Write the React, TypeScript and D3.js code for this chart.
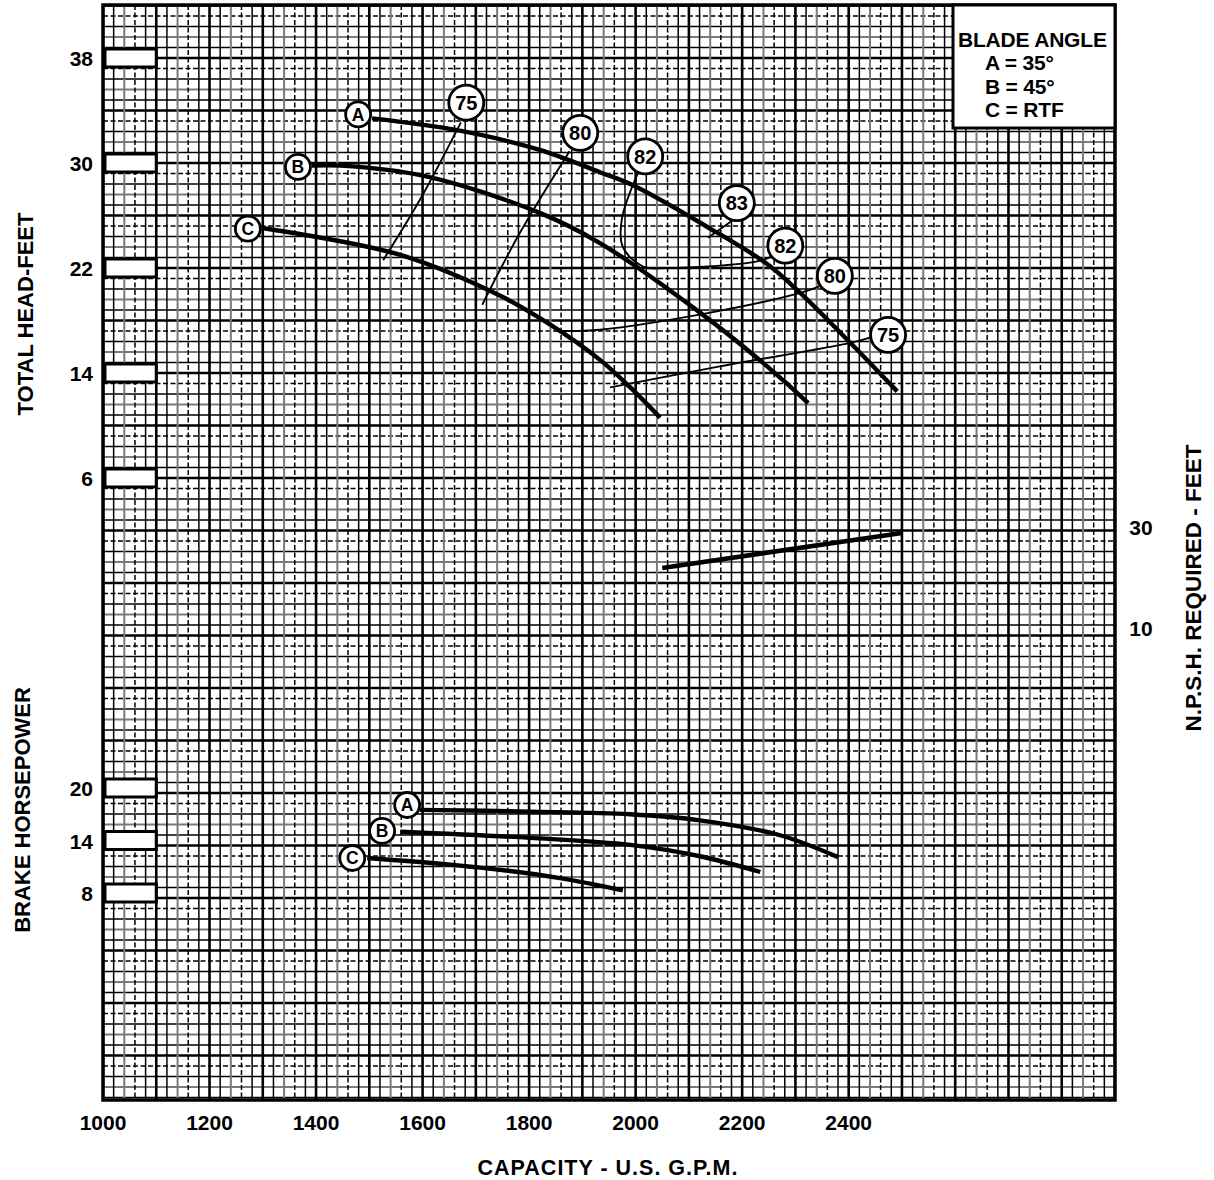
import React from 'react';
import * as d3 from 'd3';

const W = 1214, H = 1180;
const X0 = 103, X1 = 1115, Y0 = 5, Y1 = 1100;

const gpmTicks = [1000, 1200, 1400, 1600, 1800, 2000, 2200, 2400];
const headTicks = [38, 30, 22, 14, 6];
const bhpTicks = [20, 14, 8];
const npshTicks = [30, 10];

// Head curves [gpm, feet]
const headA = [[1505, 33.4], [1665, 32.5], [1820, 31.0], [1933, 29.3], [1995, 28.3], [2140, 25.0], [2247, 22.3], [2309, 20.1], [2403, 16.3], [2491, 12.6]];
const headB = [[1392, 29.8], [1445, 29.8], [1605, 29.0], [1820, 26.2], [1933, 23.9], [2121, 18.6], [2247, 14.5], [2324, 11.7]];
const headC = [[1299, 25.05], [1558, 23.0], [1745, 19.9], [1839, 17.7], [1933, 15.0], [1990, 12.9], [2046, 10.6]];

// Efficiency iso lines [gpm, feet]
const eff75L = [[1526, 22.6], [1595, 27.2], [1672, 33.1]];
const eff80L = [[1712, 19.2], [1783, 24.7], [1876, 30.9]];
const eff82 = [[2005, 29.3], [1974, 25.7], [1976, 23.6], [2014, 22.1], [2059, 22.0], [2228, 22.5], [2262, 23.0]];
const eff83 = [[2136, 24.3], [2181, 25.6]];
const eff80R = [[1864, 17.2], [1933, 17.3], [2140, 18.6], [2309, 20.1], [2345, 20.6]];
const eff75R = [[1952, 12.9], [2158, 14.5], [2403, 16.3], [2440, 16.7]];

// Circled labels [gpm, feet, text]
const effLabels: [number, number, string][] = [
  [1682, 34.6, '75'], [1896, 32.3, '80'], [2018, 30.5, '82'], [2190, 26.95, '83'],
  [2281, 23.7, '82'], [2374, 21.4, '80'], [2474, 16.9, '75'],
];
const headLabels: [number, number, string][] = [[1479, 33.7, 'A'], [1366, 29.7, 'B'], [1272, 25.0, 'C']];

// NPSH required [gpm, feet]
const npshLine = [[2050, 21.9], [2500, 28.8]];

// Brake horsepower [gpm, hp]
const bhpA = [[1595, 17.5], [1802, 17.3], [1990, 17.0], [2121, 16.3], [2271, 14.6], [2380, 12.1]];
const bhpB = [[1558, 15.0], [1802, 14.3], [1990, 13.5], [2121, 12.2], [2234, 10.4]];
const bhpC = [[1496, 12.0], [1708, 10.9], [1858, 9.7], [1976, 8.3]];
const bhpLabels: [number, number, string][] = [[1571, 18.06, 'A'], [1524, 15.1, 'B'], [1468, 12.0, 'C']];

const legendLines = ['BLADE ANGLE', 'A = 35°', 'B = 45°', 'C = RTF'];

const FONT = '"Liberation Sans", Arial, Helvetica, sans-serif';

export default function App() {
  const x = d3.scaleLinear().domain([1000, 2900]).range([X0, X1]);
  const head = d3.scaleLinear().domain([0, 38]).range([556.75, 58]);
  const bhp = d3.scaleLinear().domain([8, 20]).range([893, 788]);
  const npsh = d3.scaleLinear().domain([10, 30]).range([628, 527]);

  const lineH = d3.line<number[]>().x(d => x(d[0])).y(d => head(d[1])).curve(d3.curveCatmullRom.alpha(0.5));
  const lineP = d3.line<number[]>().x(d => x(d[0])).y(d => bhp(d[1])).curve(d3.curveCatmullRom.alpha(0.5));
  const lineN = d3.line<number[]>().x(d => x(d[0])).y(d => npsh(d[1]));

  // graph paper grid
  const styleFor = (i: number, vertical: boolean) => {
    const m = ((i % 5) + 5) % 5;
    if (m === 0) return { stroke: '#000', strokeWidth: 2.6, dash: undefined as string | undefined };
    const order = vertical ? [0, 1, 2, 3, 1] : [0, 3, 1, 2, 1];
    const t = order[m];
    if (t === 1) return { stroke: '#000', strokeWidth: 1.5, dash: undefined };
    if (t === 2) return { stroke: '#7a7a7a', strokeWidth: 2, dash: undefined };
    return { stroke: '#000', strokeWidth: 1.5, dash: '5,2.5' };
  };

  const vLines: JSX.Element[] = [];
  d3.range(1000, 2901, 20).forEach((g, i) => {
    const s = styleFor(i, true);
    vLines.push(<line key={'v' + i} x1={x(g)} x2={x(g)} y1={Y0} y2={Y1} stroke={s.stroke} strokeWidth={s.strokeWidth} strokeDasharray={s.dash} />);
  });
  const hLines: JSX.Element[] = [];
  for (let k = 0; ; k++) {
    const hv = 42 - 0.8 * k;
    const y = head(hv);
    if (y > Y1) break;
    const s = styleFor(k, false);
    hLines.push(<line key={'h' + k} x1={X0} x2={X1} y1={y} y2={y} stroke={s.stroke} strokeWidth={s.strokeWidth} strokeDasharray={s.dash} />);
  }

  const circ = (cx: number, cy: number, r: number, t: string, fs: number, key: string) => (
    <g key={key}>
      <circle cx={cx} cy={cy} r={r} fill="#fff" stroke="#000" strokeWidth={2.8} />
      <text x={cx} y={cy + fs * 0.36} textAnchor="middle" fontSize={fs} fontWeight="bold" fontFamily={FONT}>{t}</text>
    </g>
  );

  return (
    <svg width={W} height={H} style={{ position: 'absolute', left: 0, top: 0, background: '#fff' }}>
      <rect x={0} y={0} width={W} height={H} fill="#fff" />
      <defs>
        <clipPath id="plot"><rect x={X0} y={Y0} width={X1 - X0} height={Y1 - Y0} /></clipPath>
      </defs>
      <g clipPath="url(#plot)">
        {hLines}
        {vLines}
      </g>
      <rect x={X0} y={Y0} width={X1 - X0} height={Y1 - Y0} fill="none" stroke="#000" strokeWidth={3.5} />

      {/* left scale boxes */}
      {headTicks.map(t => (
        <rect key={'hb' + t} x={x(1000) + 2} y={head(t) - 9} width={x(1100) - x(1000) - 2} height={18} fill="#fff" stroke="#000" strokeWidth={3} />
      ))}
      {bhpTicks.map(t => (
        <rect key={'bb' + t} x={x(1000) + 2} y={bhp(t) - 9} width={x(1100) - x(1000) - 2} height={18} fill="#fff" stroke="#000" strokeWidth={3} />
      ))}

      {/* legend */}
      <rect x={953} y={Y0} width={X1 - 953} height={123} fill="#fff" stroke="#000" strokeWidth={3} />
      {legendLines.map((t, i) => (
        <text key={'lg' + i} x={i === 0 ? 958 : 985} y={47 + i * 23.3} fontSize={21} fontWeight="bold" fontFamily={FONT} letterSpacing={-0.2}>{t}</text>
      ))}

      {/* efficiency lines */}
      {[eff75L, eff80L, eff82, eff83, eff80R, eff75R].map((d, i) => (
        <path key={'e' + i} d={lineH(d as number[][]) || ''} fill="none" stroke="#000" strokeWidth={1.9} />
      ))}
      {/* head curves */}
      {[headA, headB, headC].map((d, i) => (
        <path key={'hc' + i} d={lineH(d as number[][]) || ''} fill="none" stroke="#000" strokeWidth={4.4} strokeLinecap="butt" />
      ))}
      {/* NPSH */}
      <path d={lineN(npshLine as number[][]) || ''} fill="none" stroke="#000" strokeWidth={4.6} />
      {/* BHP curves */}
      {[bhpA, bhpB, bhpC].map((d, i) => (
        <path key={'bc' + i} d={lineP(d as number[][]) || ''} fill="none" stroke="#000" strokeWidth={4.4} />
      ))}

      {effLabels.map((l, i) => circ(x(l[0]), head(l[1]), 17.5, l[2], 20, 'el' + i))}
      {headLabels.map((l, i) => circ(x(l[0]), head(l[1]), 12.5, l[2], 17.5, 'hl' + i))}
      {bhpLabels.map((l, i) => circ(x(l[0]), bhp(l[1]), 12.5, l[2], 17.5, 'bl' + i))}

      {/* tick labels */}
      {gpmTicks.map(g => (
        <text key={'gx' + g} x={x(g)} y={1130} textAnchor="middle" fontSize={21} fontWeight="bold" fontFamily={FONT}>{g}</text>
      ))}
      {headTicks.map(t => (
        <text key={'ht' + t} x={93} y={head(t) + 8} textAnchor="end" fontSize={21} fontWeight="bold" fontFamily={FONT}>{t}</text>
      ))}
      {bhpTicks.map(t => (
        <text key={'bt' + t} x={93} y={bhp(t) + 8} textAnchor="end" fontSize={21} fontWeight="bold" fontFamily={FONT}>{t}</text>
      ))}
      {npshTicks.map(t => (
        <text key={'nt' + t} x={1141} y={npsh(t) + 8} textAnchor="middle" fontSize={21} fontWeight="bold" fontFamily={FONT}>{t}</text>
      ))}

      {/* axis titles */}
      <text transform="translate(33,314) rotate(-90)" textAnchor="middle" fontSize={22} fontWeight="bold" fontFamily={FONT}>TOTAL HEAD-FEET</text>
      <text transform="translate(30,810) rotate(-90)" textAnchor="middle" fontSize={22} fontWeight="bold" fontFamily={FONT}>BRAKE HORSEPOWER</text>
      <text transform="translate(1201,588) rotate(-90)" textAnchor="middle" fontSize={22.5} fontWeight="bold" fontFamily={FONT}>N.P.S.H. REQUIRED - FEET</text>
      <text x={608} y={1175} textAnchor="middle" fontSize={21.5} fontWeight="bold" fontFamily={FONT} letterSpacing={1}>CAPACITY - U.S. G.P.M.</text>
    </svg>
  );
}
